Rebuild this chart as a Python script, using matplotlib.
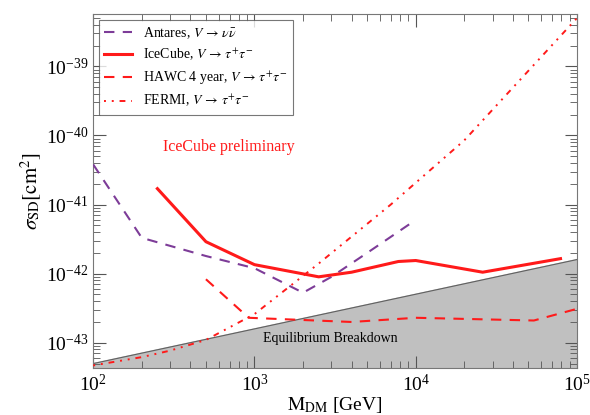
import numpy as np
import matplotlib.pyplot as plt

plt.rcParams['font.family'] = ['Liberation Serif', 'DejaVu Serif']
plt.rcParams['mathtext.fontset'] = 'stix'

# Antares, V -> nu nubar
antares_m = [100, 200, 500, 1000, 2000, 3000, 5000, 10000]
antares_s = [3.8e-41, 3.3e-42, 1.8e-42, 1.2e-42, 5.3e-43, 9e-43, 2e-42, 6e-42]

# IceCube, V -> tau tau
icecube_m = [250, 500, 1000, 2500, 4000, 7800, 10000, 26000, 79000]
icecube_s = [1.7e-41, 2.9e-42, 1.35e-42, 9e-43, 1.05e-42, 1.5e-42, 1.55e-42, 1.05e-42, 1.65e-42]

# HAWC 4 year
hawc_m = [500, 920, 4000, 10000, 54000, 100000]
hawc_s = [8.3e-43, 2.3e-43, 2.0e-43, 2.3e-43, 2.1e-43, 3.1e-43]

# FERMI
fermi_m = [100, 200, 300, 500, 1000, 2500, 7000, 20000, 100000]
fermi_s = [4.7e-44, 6.2e-44, 7.7e-44, 1.1e-43, 2.6e-43, 1.4e-42, 1e-41, 8.5e-41, 5e-39]

# equilibrium breakdown boundary
eq_m = [100, 100000]
eq_s = [5e-44, 1.6e-42]

fig = plt.figure(figsize=(5.9, 4.15), dpi=100)
ax = fig.add_axes([0.158, 0.113, 0.820, 0.853])

red = '#ff1a1a'
purple = '#7d3c98'

ax.fill_between(eq_m, 1e-50, eq_s, color='#c0c0c0', zorder=1)
ax.plot(eq_m, eq_s, color='#606060', lw=0.8, zorder=2)

ax.plot(antares_m, antares_s, color=purple, lw=1.5, ls=(0, (5, 4)),
        label=r'Antares, $V \, \rightarrow \, \nu\bar{\nu}$', zorder=3)
ax.plot(icecube_m, icecube_s, color=red, lw=2.2, ls='-',
        label=r'IceCube, $V \, \rightarrow \, \tau^{+}\tau^{-}$', zorder=4)
ax.plot(hawc_m, hawc_s, color=red, lw=1.5, ls=(0, (5, 4)),
        label=r'HAWC 4 year, $V \, \rightarrow \, \tau^{+}\tau^{-}$', zorder=3)
ax.plot(fermi_m, fermi_s, color=red, lw=1.4, ls=(0, (1, 3, 1, 3, 3, 3)),
        label=r'FERMI, $V \, \rightarrow \, \tau^{+}\tau^{-}$', zorder=3)

ax.set_xscale('log')
ax.set_yscale('log')
ax.set_xlim(100, 1e5)
ax.set_ylim(4.3e-44, 5.7e-39)

ax.text(2960, 1.14e-43, 'Equilibrium Breakdown', fontsize=10, ha='center', va='center', zorder=5)
ax.text(690, 6.8e-41, 'IceCube preliminary', fontsize=11.5, color=red, ha='center', va='center')

ax.tick_params(which='both', direction='in', top=True, right=True, labelsize=14, color='#555555')
ax.tick_params(which='major', length=9, width=0.8)
ax.tick_params(which='minor', length=5, width=0.6)
ax.tick_params(axis='x', pad=4)
for s in ax.spines.values():
    s.set_color('#777777')

ax.set_xlabel(r'$\mathrm{M_{DM}}$ [GeV]', fontsize=14, labelpad=0)
ax.set_ylabel(r'$\sigma_{\mathrm{SD}}[\mathrm{cm}^2]$', fontsize=15, labelpad=2)

leg = ax.legend(loc='upper left', fontsize=10, frameon=True, fancybox=False,
                edgecolor='#555555', handlelength=2.0, borderaxespad=0.4,
                labelspacing=0.45)
leg.get_frame().set_linewidth(0.8)

fig.savefig('out.png', dpi=100)
